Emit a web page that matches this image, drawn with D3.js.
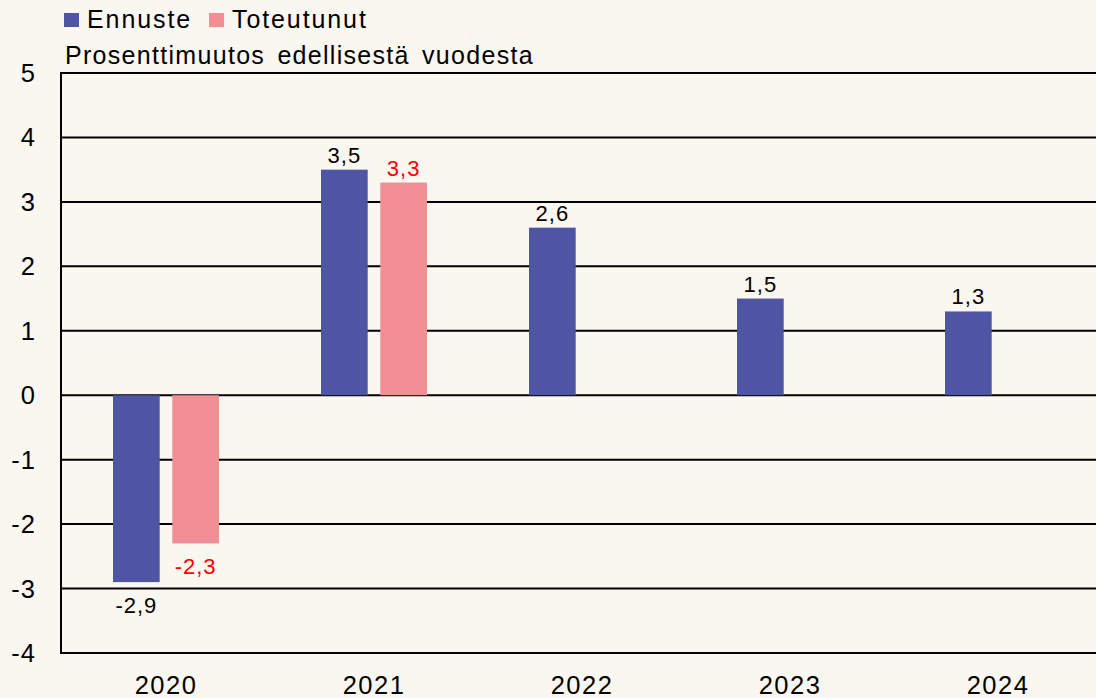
<!DOCTYPE html>
<html>
<head>
<meta charset="utf-8">
<script src="https://cdn.jsdelivr.net/npm/d3@7"></script>
<style>
  html, body { margin: 0; padding: 0; background: #faf6f0; }
  svg { display: block; font-family: "Liberation Sans", Arial, sans-serif; }
</style>
</head>
<body>
<svg id="chart" width="1096" height="698"></svg>
<script>
"use strict";

// data
var years = ["2020", "2021", "2022", "2023", "2024"]
var seriesNames = ["Ennuste", "Toteutunut"]
var ennuste = [-2.9, 3.5, 2.6, 1.5, 1.3]
var toteutunut = [-2.3, 3.3, null, null, null]
var yTicks = [-4, -3, -2, -1, 0, 1, 2, 3, 4, 5]
var subtitle = "Prosenttimuutos edellisestä vuodesta"

var colors = { "Ennuste": "#4f55a3", "Toteutunut": "#f18e96" }
var labelColors = { "Ennuste": "#000000", "Toteutunut": "#ff0000" }

var svg = d3.select("#chart")

// scales
var x = d3.scaleBand().domain(years).range([62, 1102]).padding(0)
var x1 = d3.scaleBand().domain(seriesNames).range([51, 157]).paddingInner(0.2125)
var y = d3.scaleLinear().domain([-4, 5]).range([653, 73])

// rows: one per year and series
var rows = []
years.forEach(function(yr, i) {
  rows.push({ year: yr, serie: "Ennuste", value: ennuste[i] })
  if (toteutunut[i] !== null) rows.push({ year: yr, serie: "Toteutunut", value: toteutunut[i] })
})

// gridlines
svg.append("g")
  .selectAll("line")
  .data(yTicks)
  .enter()
  .append("line")
    .attr("x1", 61)
    .attr("x2", 1096)
    .attr("y1", d => y(d))
    .attr("y2", d => y(d))
    .attr("stroke", "#000")
    .attr("stroke-width", 2)

// left axis line
svg.append("line")
  .attr("x1", 61).attr("x2", 61)
  .attr("y1", y(5) - 1).attr("y2", y(-4) + 1)
  .attr("stroke", "#000")
  .attr("stroke-width", 2)

// y tick labels
svg.append("g")
  .selectAll("text")
  .data(yTicks)
  .enter()
  .append("text")
    .attr("x", 36)
    .attr("y", d => y(d) + 9)
    .attr("text-anchor", "end")
    .attr("font-size", 25.5)
    .attr("letter-spacing", 1)
    .text(d => d)

// x labels
svg.append("g")
  .selectAll("text")
  .data(years)
  .enter()
  .append("text")
    .attr("x", d => x(d) + x.bandwidth() / 2)
    .attr("y", 694)
    .attr("text-anchor", "middle")
    .attr("font-size", 25.5)
    .attr("letter-spacing", 1.5)
    .text(d => d)

// bars
svg.append("g")
  .selectAll("rect")
  .data(rows)
  .enter()
  .append("rect")
    .attr("x", d => x(d.year) + x1(d.serie))
    .attr("width", x1.bandwidth())
    .attr("y", d => y(Math.max(0, d.value)))
    .attr("height", d => Math.abs(y(d.value) - y(0)))
    .attr("fill", d => colors[d.serie])

// value labels
svg.append("g")
  .selectAll("text")
  .data(rows)
  .enter()
  .append("text")
    .attr("x", d => x(d.year) + x1(d.serie) + x1.bandwidth() / 2)
    .attr("y", d => d.value >= 0 ? y(d.value) - 7 : y(d.value) + 31)
    .attr("text-anchor", "middle")
    .attr("font-size", 22)
    .attr("letter-spacing", 1)
    .attr("fill", d => labelColors[d.serie])
    .text(d => String(d.value).replace(".", ","))

// legend
var legend = svg.append("g")
  .selectAll("g")
  .data(seriesNames)
  .enter()
  .append("g")
    .attr("transform", (d, i) => "translate(" + (i === 0 ? 64 : 209) + ",13)")

legend.append("rect")
  .attr("width", 15)
  .attr("height", 14)
  .attr("fill", d => colors[d])

legend.append("text")
  .attr("x", 23)
  .attr("y", 15)
  .attr("font-size", 25)
  .attr("letter-spacing", 1.9)
  .text(d => d)

// subtitle
svg.append("text")
  .attr("x", 65)
  .attr("y", 64)
  .attr("font-size", 25)
  .attr("letter-spacing", 1.3)
  .attr("word-spacing", 4)
  .text(subtitle)
</script>
</body>
</html>
